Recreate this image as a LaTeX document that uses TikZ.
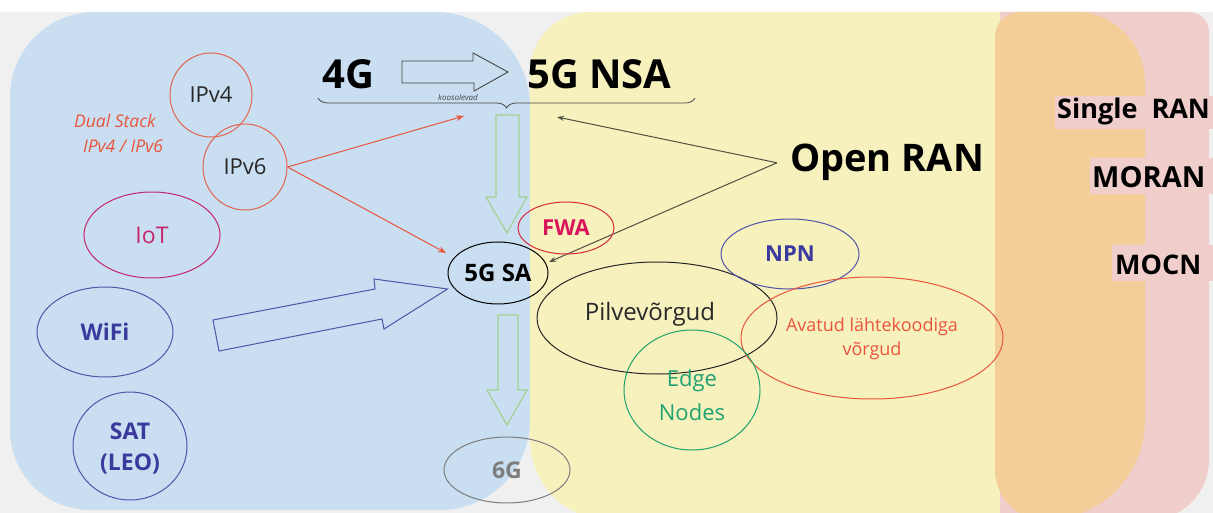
\documentclass[tikz,border=0pt]{standalone}
\usepackage{fontspec}
\setmainfont{Open Sans}
\usetikzlibrary{shapes.geometric,arrows.meta,decorations.pathreplacing}

\definecolor{bggray}{RGB}{240,240,240}
\definecolor{bgblue}{RGB}{201,222,240}
\definecolor{bgyellow}{RGB}{246,241,189}
\definecolor{bgorange}{RGB}{243,206,153}
\definecolor{bgpink}{RGB}{240,206,203}
\definecolor{redline}{RGB}{232,85,60}
\definecolor{ipline}{RGB}{226,100,78}
\definecolor{txtdark}{RGB}{40,40,40}
\definecolor{iotc}{RGB}{196,38,110}
\definecolor{indigo}{RGB}{58,58,158}
\definecolor{indigoline}{RGB}{80,84,170}
\definecolor{fwaline}{RGB}{220,40,60}
\definecolor{fwatext}{RGB}{218,20,90}
\definecolor{edgegreen}{RGB}{32,162,112}
\definecolor{lightgreen}{RGB}{160,210,145}
\definecolor{openline}{RGB}{80,80,66}
\definecolor{sixg}{RGB}{125,125,125}
\definecolor{darkgray}{RGB}{70,70,70}

\newcommand{\txtsize}[1]{\fontsize{#1}{#1}\selectfont}

\begin{document}
\begin{tikzpicture}[x=1pt,y=-1pt,
  ell/.style args={#1/#2}{ellipse, draw, line width=1pt,
    minimum width=#1pt, minimum height=#2pt, inner sep=0pt},
  lbl/.style={inner sep=0pt, align=center},
  big/.style={inner sep=0pt, anchor=base west, font=\bfseries\txtsize{40}, text=black},
  side/.style={inner sep=0pt, anchor=base west, font=\bfseries\txtsize{29}, text=black},
  redarrow/.style={draw=redline, line width=1pt, -{Stealth[length=8pt,width=6pt]}},
  openarrow/.style={draw=openline, line width=1pt, -{Stealth[length=7pt,width=5pt]}},
  blockgreen/.style={draw=lightgreen, line width=1.2pt, line join=miter},
]
\useasboundingbox (0,0) rectangle (1213,513);

% backdrop
\fill[bggray] (0,0) rectangle (1213,513);
\fill[white] (0,0) rectangle (1213,12);

% coloured zones
\fill[bgblue] (10,260) [rounded corners=85pt] |- (300,12)
  [rounded corners=95pt] -| (530,260)
  [rounded corners=90pt] |- (300,510)
  [rounded corners=80pt] -| (10,260);
\fill[bgyellow] (530,260) [rounded corners=60pt] |- (800,12)
  [rounded corners=0pt] -| (1060,260) |- (800,520)
  [rounded corners=80pt] -| (530,260);
\fill[bgpink] (1000,260) [rounded corners=0pt] |- (1100,12)
  [rounded corners=20pt] -| (1209,260)
  [rounded corners=60pt] |- (1100,520)
  [rounded corners=0pt] -| (1000,260);
\fill[bgorange] (995,260) [rounded corners=25pt] |- (1070,12)
  [rounded corners=70pt] -| (1145,260)
  [rounded corners=100pt] |- (1070,520)
  [rounded corners=50pt] -| (995,260);

% highlighted labels on the right
\fill[bgpink] (1055,96) rectangle (1213,129);
\fill[bgpink] (1090,158) rectangle (1213,194);
\fill[bgpink] (1112,245) rectangle (1213,281);
\node[side, font=\bfseries\txtsize{27}] (single) at (1057,119) {Single\ \ RAN};
\node[side] (moran) at (1092,188) {MORAN};
\node[side, font=\bfseries\txtsize{27}] (mocn) at (1115,275) {MOCN};

% 4G -> 5G NSA
\node[big] (g4) at (322,89) {4G};
\node[big] (nsa) at (527,89) {5G NSA};
\draw[draw=darkgray, line width=0.9pt, line join=miter]
  (402,61) -- (473,61) -- (473,53) -- (508,72) -- (474,91) -- (474,83) -- (402,83) -- cycle;
\draw[decorate, decoration={brace, mirror, amplitude=10pt}, draw=darkgray, line width=0.8pt]
  (318,98) -- (695,98);
\node[lbl, font=\itshape\txtsize{8}, text=darkgray] (koos) at (458,98) {koosolevad};

% Open RAN
\node[big, font=\bfseries\txtsize{38}] (oran) at (790,172) {Open RAN};
\coordinate (oran-tail) at ([xshift=-13pt]oran.west);
\coordinate (nsa-pt) at (557,117);
\coordinate (sa-pt) at (549,262);
\draw[openarrow] (oran-tail) -- (nsa-pt);
\draw[openarrow] (oran-tail) -- (sa-pt);

% IP stack
\node[ell=82/84, draw=ipline] (ipv4) at (211,95) {};
\node[lbl, font=\txtsize{22}, text=txtdark] at (ipv4) {IPv4};
\node[ell=84/86, draw=ipline] (ipv6) at (245,167) {};
\node[lbl, font=\txtsize{22}, text=txtdark] at (ipv6) {IPv6};
\node[lbl, font=\itshape\txtsize{17.5}, text=redline] (dual) at (115,121) {Dual Stack};
\node[lbl, font=\itshape\txtsize{17.5}, text=redline] (dual2) at (123,146) {IPv4 / IPv6};
\coordinate (nsa-in) at (464,116);
\coordinate (sa-in) at (446,253);
\draw[redarrow] (ipv6.east) -- (nsa-in);
\draw[redarrow] (ipv6.east) -- (sa-in);

% left column
\node[ell=136/86, draw=iotc] (iot) at (152,235) {};
\node[lbl, font=\txtsize{23}, text=iotc] at (iot) {IoT};
\node[ell=136/90, draw=indigoline] (wifi) at (105,332) {};
\node[lbl, font=\bfseries\txtsize{23}, text=indigo] at (wifi) {WiFi};
\node[ell=114/108, draw=indigoline] (sat) at (130,446) {};
\node[lbl, font=\bfseries\txtsize{23}, text=indigo] at (130,431) {SAT};
\node[lbl, font=\bfseries\txtsize{23}, text=indigo] at (130,464) {(LEO)};

% 5G SA and its neighbours
\node[ell=100/62, draw=black] (sa) at (498,273) {};
\node[lbl, font=\bfseries\txtsize{24}, text=black] at (sa) {5G SA};
\node[ell=96/52, draw=fwaline] (fwa) at (566,228) {};
\node[lbl, font=\bfseries\txtsize{22}, text=fwatext] at (fwa) {FWA};
\node[ell=240/112, draw=black!85] (cloud) at (657,318) {};
\node[lbl, font=\txtsize{24}, text=txtdark] at (650,314) {Pilvevõrgud};
\node[ell=138/70, draw=indigoline] (npn) at (790,254) {};
\node[lbl, font=\bfseries\txtsize{22}, text=indigo] at (npn) {NPN};
\node[ell=262/122, draw=redline] (open) at (872,338) {};
\node[lbl, font=\txtsize{18}, text=redline] at (872,327) {Avatud lähtekoodiga};
\node[lbl, font=\txtsize{18}, text=redline] at (872,351) {võrgud};
\node[ell=136/120, draw=edgegreen] (edge) at (692,390) {};
\node[lbl, font=\txtsize{22}, text=edgegreen] at (692,381) {Edge};
\node[lbl, font=\txtsize{22}, text=edgegreen] at (692,412) {Nodes};
\node[ell=126/66, draw=sixg] (g6) at (507,470) {};
\node[lbl, font=\bfseries\txtsize{23}, text=sixg] at (g6) {6G};

% WiFi feeding 5G SA
\draw[draw=indigoline, line width=1pt, line join=miter]
  (213,320) -- (375,289) -- (374,279) -- (sa.west |- 0,289) -- (384,329) -- (382,319) -- (219,351) -- cycle;

% evolution arrows
\draw[blockgreen] (496,115) -- (519,115) -- (519,197) -- (527,197) -- (507,233)
  -- (486,197) -- (496,197) -- cycle;
\draw[blockgreen] (498,315) -- (518,315) -- (518,390) -- (527,390) -- (507,425)
  -- (487,390) -- (498,390) -- cycle;
\end{tikzpicture}
\end{document}
